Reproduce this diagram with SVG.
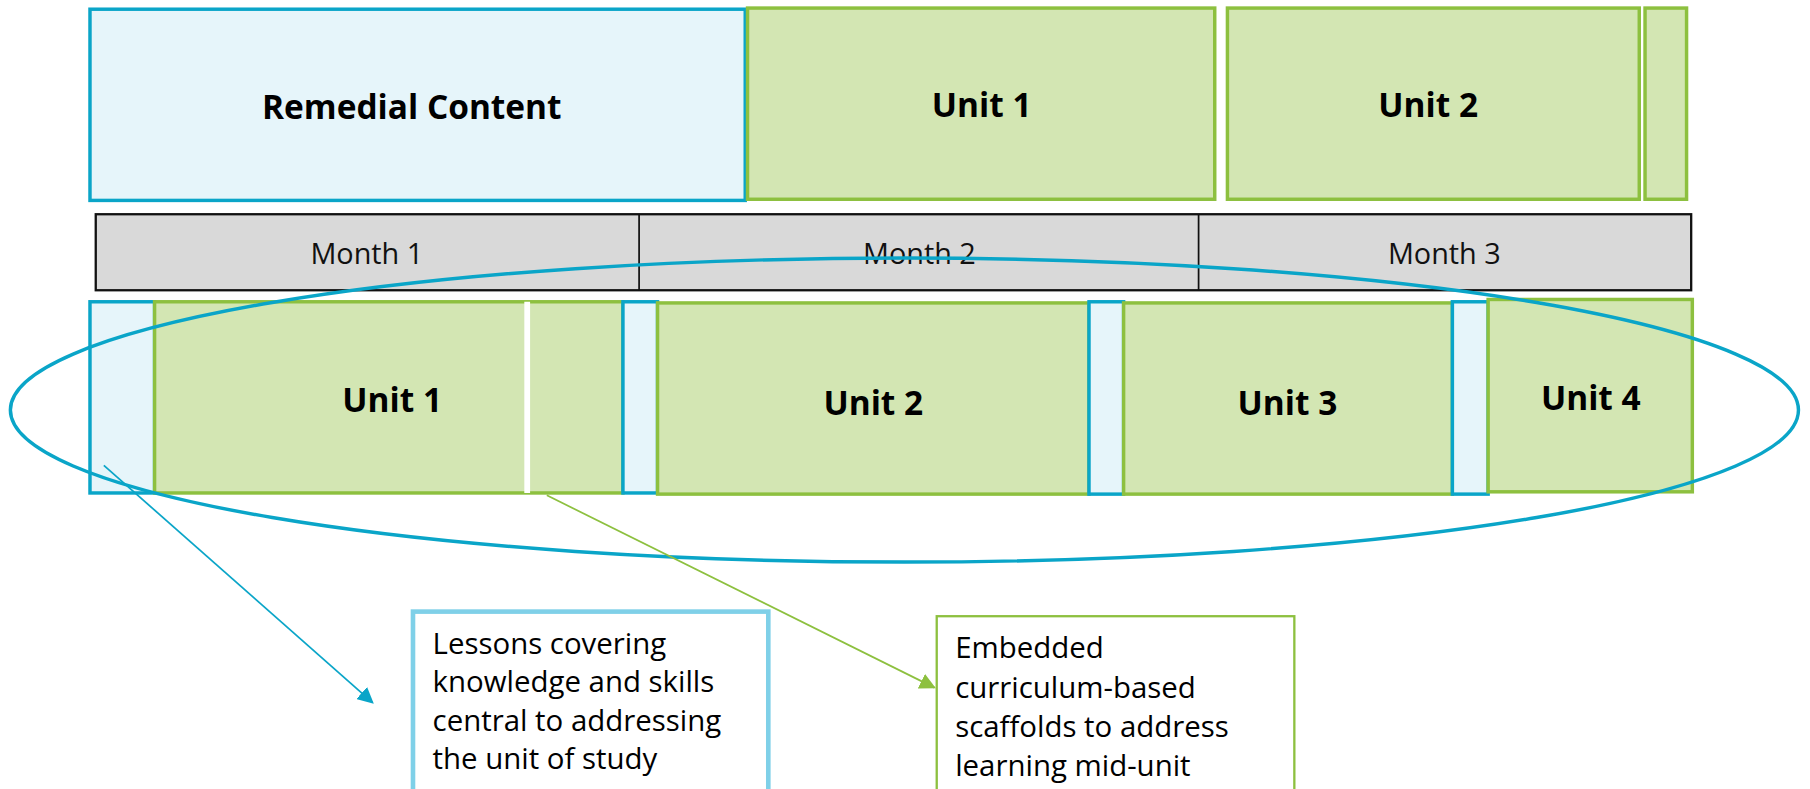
<svg xmlns="http://www.w3.org/2000/svg" width="1810" height="789" viewBox="0 0 1810 789">
<defs>
<style>
.blue{fill:#E6F5FA;stroke:#0AA5C8;stroke-width:3}
.green{fill:#D3E6B3;stroke:#8DC03F;stroke-width:3}
.lbl{font-family:"Open Sans","Noto Sans",sans-serif;font-weight:bold;font-size:29px;fill:#000;text-anchor:middle}
.mon{font-family:"Open Sans","Noto Sans",sans-serif;font-size:25px;fill:#111;text-anchor:middle}
.note{font-family:"Open Sans","Noto Sans",sans-serif;font-size:25.5px;fill:#000}
</style>
<marker id="ab" viewBox="0 0 10 10" refX="9" refY="5" markerWidth="14" markerHeight="14" markerUnits="userSpaceOnUse" orient="auto">
<path d="M0,0 L10,5 L0,10 z" fill="#0AA5C8"/>
</marker>
<marker id="ag" viewBox="0 0 10 10" refX="9" refY="5" markerWidth="14" markerHeight="14" markerUnits="userSpaceOnUse" orient="auto">
<path d="M0,0 L10,5 L0,10 z" fill="#8DC03F"/>
</marker>
</defs>
<rect width="1810" height="789" fill="#fff"/>
<g transform="scale(1.1536 1.1518)">
<g id="remedial"><rect class="blue" x="78" y="8" width="568" height="166"/><text class="lbl" x="357" y="103">Remedial Content</text></g>
<g id="top-unit1"><rect class="green" x="648" y="7" width="405" height="166"/><text class="lbl" x="851" y="102">Unit 1</text></g>
<g id="top-unit2"><rect class="green" x="1064" y="7" width="357" height="166"/><text class="lbl" x="1238" y="102">Unit 2</text></g>
<g id="top-unit3"><rect class="green" x="1426" y="7" width="36" height="166"/></g>
<g id="months">
<rect x="83" y="186" width="1383" height="66" fill="#D9D9D9" stroke="#111" stroke-width="2"/>
<line x1="554" y1="186" x2="554" y2="252" stroke="#111" stroke-width="1.5"/>
<line x1="1039" y1="186" x2="1039" y2="252" stroke="#111" stroke-width="1.5"/>
<text class="mon" x="318" y="229">Month 1</text>
<text class="mon" x="797" y="229">Month 2</text>
<text class="mon" x="1252" y="229">Month 3</text>
</g>
<g id="rem1"><rect class="blue" x="78" y="262" width="56" height="166"/></g>
<g id="unit1"><rect class="green" x="134" y="262" width="406" height="166"/><line x1="457" y1="262" x2="457" y2="428" stroke="#fff" stroke-width="5"/><text class="lbl" x="340" y="358">Unit 1</text></g>
<g id="rem2"><rect class="blue" x="540" y="262" width="30" height="166"/></g>
<g id="unit2"><rect class="green" x="570" y="263" width="374" height="166"/><text class="lbl" x="757" y="360">Unit 2</text></g>
<g id="rem3"><rect class="blue" x="944" y="262" width="30" height="167"/></g>
<g id="unit3"><rect class="green" x="974" y="263" width="285" height="166"/><text class="lbl" x="1116" y="360">Unit 3</text></g>
<g id="rem4"><rect class="blue" x="1259" y="262" width="31" height="167"/></g>
<g id="unit4"><rect class="green" x="1290" y="260" width="177" height="167"/><text class="lbl" x="1379" y="356">Unit 4</text></g>
<g id="connectors">
<ellipse cx="784" cy="356" rx="775" ry="132" fill="none" stroke="#0AA5C8" stroke-width="3"/>
<line x1="90" y1="404" x2="323" y2="610" stroke="#0AA5C8" stroke-width="1.5" marker-end="url(#ab)"/>
<line x1="474" y1="430" x2="810" y2="597" stroke="#8DC03F" stroke-width="1.5" marker-end="url(#ag)"/>
</g>
<g id="note-remedial">
<rect x="358" y="531" width="308" height="160" fill="#fff" stroke="#7FD0E8" stroke-width="4"/>
<text class="note" x="375" y="568">Lessons covering</text>
<text class="note" x="375" y="601">knowledge and skills</text>
<text class="note" x="375" y="635">central to addressing</text>
<text class="note" x="375" y="668">the unit of study</text>
</g>
<g id="note-scaffold">
<rect x="812" y="535" width="310" height="160" fill="#fff" stroke="#8DC03F" stroke-width="2"/>
<text class="note" x="828" y="571">Embedded</text>
<text class="note" x="828" y="606">curriculum-based</text>
<text class="note" x="828" y="640">scaffolds to address</text>
<text class="note" x="828" y="674">learning mid-unit</text>
</g>
</g>
</svg>
